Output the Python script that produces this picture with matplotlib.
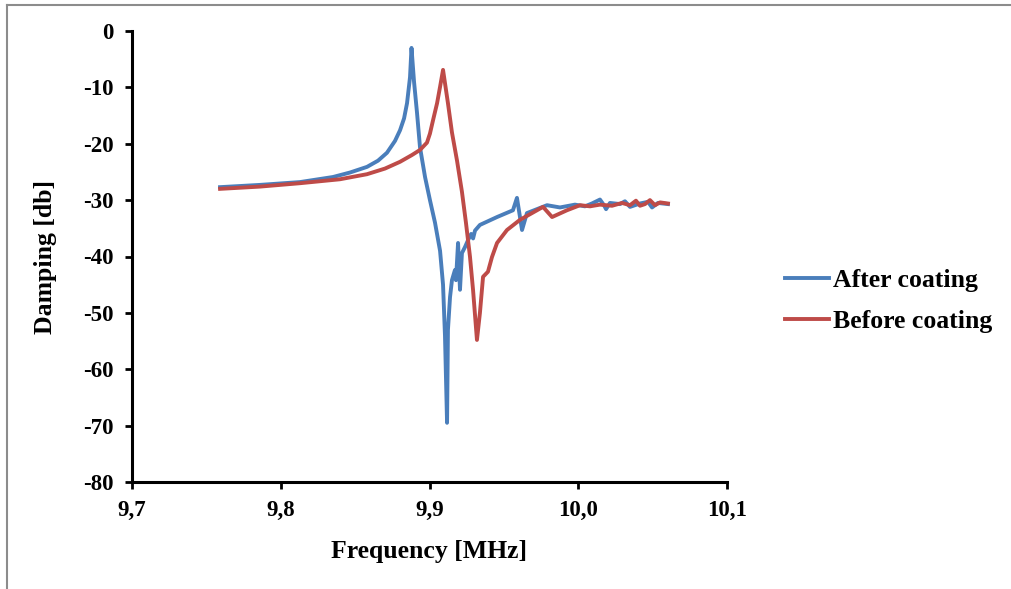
import matplotlib
matplotlib.use("Agg")
import matplotlib.pyplot as plt
from matplotlib.lines import Line2D

# After coating (blue) - frequency in MHz, damping in dB
after_freq = [9.7592, 9.7860, 9.8129, 9.8351, 9.8466, 9.8580, 9.8654, 9.8714, 9.8768,
              9.8802, 9.8829, 9.8849, 9.8869, 9.8879, 9.8896, 9.8916, 9.8936, 9.8970,
              9.9003, 9.9037, 9.9071, 9.9091, 9.9104, 9.9118, 9.9124,
              9.9138, 9.9151, 9.9171, 9.9178, 9.9192, 9.9205, 9.9218, 9.9239, 9.9259,
              9.9280, 9.9293, 9.9306, 9.9339, 9.9454, 9.9561, 9.9588, 9.9622, 9.9655, 9.9790,
              9.9877, 9.9978, 10.0045, 10.0092, 10.0146, 10.0173, 10.0187, 10.0213,
              10.0281, 10.0314, 10.0348, 10.0415, 10.0469, 10.0496, 10.0536, 10.0603]
after_db = [-27.7, -27.3, -26.8, -25.9, -25.1, -24.1, -23.0, -21.6, -19.5,
            -17.6, -15.5, -12.8, -8.2, -3.0, -9.0, -14.5, -20.6, -25.9,
            -30.0, -34.0, -39.0, -45.0, -54.0, -69.5, -53.0,
            -47.2, -44.2, -42.4, -44.2, -37.6, -45.9, -39.4, -38.3, -37.1,
            -36.0, -36.8, -35.4, -34.4, -33.0, -31.8, -29.6, -35.3, -32.3, -30.9,
            -31.3, -30.8, -31.1, -30.6, -29.9, -30.9, -31.6, -30.5,
            -30.7, -30.2, -31.2, -30.6, -30.3, -31.3, -30.5, -30.7]

# Before coating (red)
before_freq = [9.7592, 9.7860, 9.8129, 9.8398, 9.8580, 9.8701, 9.8802, 9.8882, 9.8936,
               9.8983, 9.9003, 9.9024, 9.9051, 9.9071, 9.9091, 9.9124, 9.9151, 9.9185, 9.9218,
               9.9245, 9.9272, 9.9293, 9.9319, 9.9339, 9.9360, 9.9393, 9.9420, 9.9454,
               9.9521, 9.9608, 9.9763, 9.9824, 9.9924, 10.0012, 10.0079, 10.0146,
               10.0227, 10.0294, 10.0348, 10.0388, 10.0415, 10.0449, 10.0482,
               10.0516, 10.0550, 10.0603]
before_db = [-28.0, -27.6, -27.0, -26.3, -25.4, -24.4, -23.2, -22.0, -21.1,
             -19.8, -18.2, -15.8, -12.8, -9.9, -6.9, -12.8, -18.0, -23.0, -28.5,
             -34.0, -40.0, -46.0, -54.8, -50.0, -43.6, -42.7, -40.1, -37.6,
             -35.3, -33.5, -31.2, -33.0, -31.8, -30.9, -31.1, -30.8,
             -31.0, -30.5, -30.9, -30.1, -31.0, -30.7, -30.0,
             -30.9, -30.4, -30.6]

x_ticks = [9.7, 9.8, 9.9, 10.0, 10.1]
x_labels = ["9,7", "9,8", "9,9", "10,0", "10,1"]
y_ticks = [0, -10, -20, -30, -40, -50, -60, -70, -80]

blue = "#4A7EBB"
red = "#BE4B48"

plt.rcParams["font.family"] = ["Liberation Serif", "DejaVu Serif"]
plt.rcParams["font.weight"] = "bold"
plt.rcParams["axes.unicode_minus"] = False

fig = plt.figure(figsize=(10.11, 5.89), dpi=100)
ax = fig.add_axes([132 / 1011, 1 - 482 / 589, (727 - 132) / 1011, (482 - 31) / 589])

ax.plot(after_freq, after_db, color=blue, linewidth=2.8, label="After coating", solid_joinstyle="round")
ax.plot(before_freq, before_db, color=red, linewidth=2.8, label="Before coating", solid_joinstyle="round")

ax.set_xlim(9.7, 10.1)
ax.set_ylim(-80, 0)
ax.set_xticks(x_ticks)
ax.set_xticklabels(x_labels)
ax.set_yticks(y_ticks)
ax.tick_params(axis="both", direction="out", length=5, width=2, labelsize=16.5, pad=8)
for t in ax.get_xticklabels() + ax.get_yticklabels():
    t.set_fontweight("bold")

for side in ["top", "right"]:
    ax.spines[side].set_visible(False)
for side in ["left", "bottom"]:
    ax.spines[side].set_linewidth(2.2)

ax.set_xlabel("Frequency [MHz]", fontsize=18.5, fontweight="bold")
ax.xaxis.set_label_coords(0.5, -0.129)
ax.set_ylabel("Damping [db]", fontsize=18.5, fontweight="bold")
ax.yaxis.set_label_coords(-0.126, 0.5)

ax.legend(loc="center left", bbox_to_anchor=(785 / 1011, 1 - 301 / 589),
          bbox_transform=fig.transFigure, frameon=False,
          handlelength=1.71, handletextpad=0.16, labelspacing=0.72,
          borderpad=0, borderaxespad=0,
          prop={"weight": "bold", "size": 18.5})

# gray chart-area border (top and left visible)
fig.add_artist(Line2D([7 / 1011, 1.0], [1 - 5 / 589, 1 - 5 / 589], color="#8c8c8c", linewidth=1.5))
fig.add_artist(Line2D([7 / 1011, 7 / 1011], [0, 1 - 5 / 589], color="#8c8c8c", linewidth=1.5))

fig.savefig("out.png", dpi=100)
